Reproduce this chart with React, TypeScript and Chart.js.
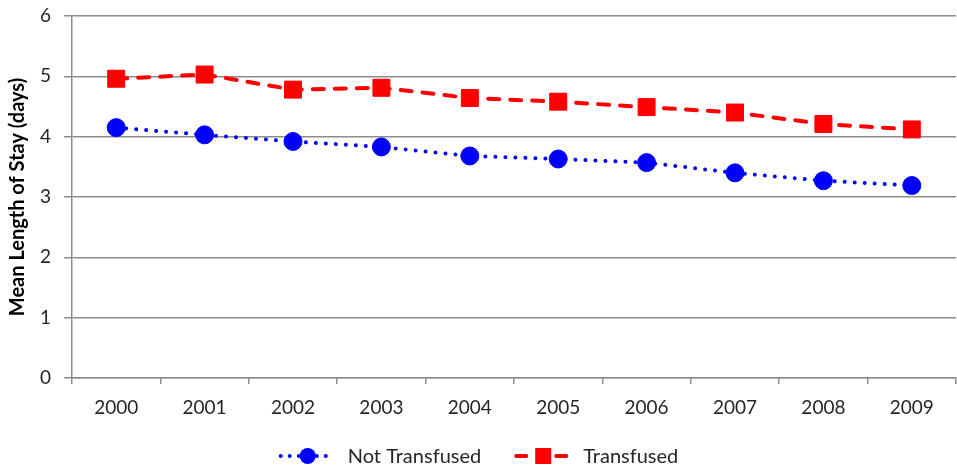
import React, { useEffect, useRef } from "react";
import { Chart, registerables } from "chart.js";

Chart.register(...registerables);

// Mean length of stay by year, for transfused and non-transfused patients
const years = ["2000", "2001", "2002", "2003", "2004", "2005", "2006", "2007", "2008", "2009"];
const notTransfused = [4.15, 4.03, 3.92, 3.83, 3.68, 3.63, 3.57, 3.4, 3.27, 3.19];
const transfused = [4.96, 5.03, 4.78, 4.81, 4.64, 4.58, 4.49, 4.4, 4.21, 4.12];
const yMin = 0;
const yMax = 6;
const yStep = 1;
const yTitle = "Mean Length of Stay (days)";

const FONT = "Lato, 'Open Sans', sans-serif";
const GRID = "#8c8c8c";
const TEXT = "#262626";

// Bottom legend: line sample with its marker, then the series name
const lineLegend = {
  id: "lineLegend",
  afterDraw(chart: Chart) {
    const ctx = chart.ctx;
    const sets = chart.data.datasets as any[];
    const sample = 58;
    const gap = 11;
    const itemGap = 33;
    ctx.save();
    ctx.font = `20px ${FONT}`;
    const widths = sets.map((d) => ctx.measureText(d.label).width);
    const total =
      widths.reduce((a, w) => a + sample + gap + w, 0) + itemGap * (sets.length - 1);
    let x = chart.width / 2 - total / 2;
    const y = 456;
    sets.forEach((d, i) => {
      ctx.save();
      ctx.strokeStyle = d.borderColor;
      ctx.lineWidth = d.borderWidth;
      ctx.lineCap = d.borderCapStyle;
      ctx.setLineDash(d.legendDash);
      ctx.beginPath();
      ctx.moveTo(x + 2, y);
      ctx.lineTo(x + sample - 2, y);
      ctx.stroke();
      ctx.restore();
      const cx = x + sample / 2;
      ctx.fillStyle = d.pointBackgroundColor;
      if (d.pointStyle === "rect") {
        ctx.fillRect(cx - 8, y - 8, 16, 16);
      } else {
        ctx.beginPath();
        ctx.arc(cx, y, 8, 0, Math.PI * 2);
        ctx.fill();
      }
      ctx.fillStyle = TEXT;
      ctx.textBaseline = "middle";
      ctx.textAlign = "left";
      ctx.fillText(d.label, x + sample + gap, y + 1);
      x += sample + gap + widths[i] + itemGap;
    });
    ctx.restore();
  },
};

export default function App() {
  const ref = useRef<HTMLCanvasElement>(null);

  useEffect(() => {
    document.body.style.margin = "0";
    const canvas = ref.current;
    if (!canvas) return;
    const chart = new Chart(canvas, {
      type: "line",
      data: {
        labels: years,
        datasets: [
          {
            label: "Not Transfused",
            data: notTransfused,
            borderColor: "#0000ff",
            backgroundColor: "#0000ff",
            pointBackgroundColor: "#0000ff",
            pointBorderColor: "#0000ff",
            borderWidth: 4,
            borderDash: [0.01, 10],
            borderCapStyle: "round",
            pointStyle: "circle",
            pointRadius: 9,
            pointBorderWidth: 1,
            tension: 0,
            legendDash: [0.01, 9],
          } as any,
          {
            label: "Transfused",
            data: transfused,
            borderColor: "#ff0000",
            backgroundColor: "#ff0000",
            pointBackgroundColor: "#ff0000",
            pointBorderColor: "#ff0000",
            borderWidth: 4,
            borderDash: [11, 11],
            borderCapStyle: "round",
            pointStyle: "rect",
            pointRadius: 12,
            pointBorderWidth: 1,
            tension: 0,
            legendDash: [10, 30],
          } as any,
        ],
      },
      options: {
        responsive: false,
        animation: false,
        devicePixelRatio: 1,
        layout: { autoPadding: false, padding: { top: 16, right: 1, bottom: 45, left: 0 } },
        plugins: {
          legend: { display: false },
          tooltip: { enabled: false },
        },
        scales: {
          x: {
            type: "category",
            offset: true,
            grid: {
              offset: true,
              drawOnChartArea: false,
              drawTicks: true,
              tickLength: 6,
              color: GRID,
              lineWidth: 1.5,
            },
            border: { display: true, color: GRID, width: 1.5 },
            ticks: {
              color: TEXT,
              padding: 12,
              font: { family: FONT, size: 19 },
              maxRotation: 0,
            },
            afterFit(scale: any) {
              scale.height = 50;
            },
          },
          y: {
            min: yMin,
            max: yMax,
            grid: {
              color: GRID,
              lineWidth: 1.5,
              tickLength: 8,
            },
            border: { display: true, color: GRID, width: 1.5 },
            ticks: {
              stepSize: yStep,
              color: TEXT,
              padding: 13,
              font: { family: FONT, size: 19 },
            },
            title: {
              display: true,
              text: yTitle,
              color: "#000000",
              font: { family: FONT, size: 20, weight: "bold" },
              padding: { top: 6, bottom: 0 },
            },
            afterFit(scale: any) {
              // fixed axis width; the layout padding alone sets the plot's top and bottom
              scale.width = 72;
              scale.paddingTop = 0;
              scale.paddingBottom = 0;
            },
          },
        },
      },
      plugins: [lineLegend],
    });
    return () => chart.destroy();
  }, []);

  return (
    <div style={{ position: "absolute", left: 0, top: 0, width: 957, height: 473, background: "#fff" }}>
      <canvas ref={ref} width={957} height={473} />
    </div>
  );
}
